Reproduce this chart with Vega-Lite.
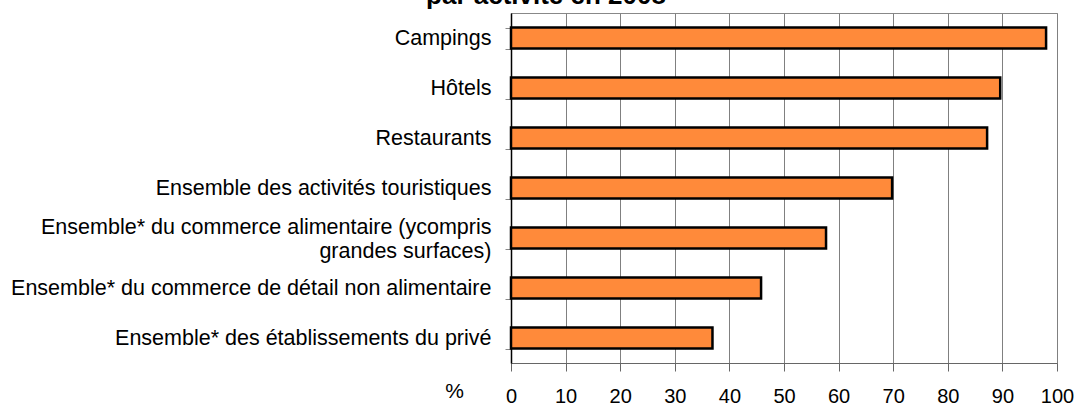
{
  "$schema": "https://vega.github.io/schema/vega-lite/v6.json",
  "width": 546,
  "height": 350,
  "autosize": "none",
  "padding": {"left": 511, "top": 13, "right": 19, "bottom": 45},
  "background": "white",
  "title": {
    "text": "par activité en 2008",
    "font": "Liberation Sans",
    "fontSize": 26,
    "fontWeight": "bold",
    "color": "black",
    "anchor": "middle",
    "baseline": "alphabetic",
    "dx": -238,
    "offset": -28
  },
  "view": {"stroke": "#888888", "strokeWidth": 1},
  "data": {
    "values": [
      {"cat": "Campings", "pct": 98.0},
      {"cat": "Hôtels", "pct": 89.6},
      {"cat": "Restaurants", "pct": 87.2},
      {"cat": "Ensemble des activités touristiques", "pct": 69.8},
      {"cat": "Ensemble* du commerce alimentaire (ycompris|grandes surfaces)", "pct": 57.7},
      {"cat": "Ensemble* du commerce de détail non alimentaire", "pct": 45.8},
      {"cat": "Ensemble* des établissements du privé", "pct": 36.9}
    ]
  },
  "mark": {"type": "bar", "fill": "#FF8A3A", "stroke": "black", "strokeWidth": 2.5},
  "encoding": {
    "y": {
      "field": "cat",
      "type": "nominal",
      "sort": null,
      "scale": {"paddingInner": 0.58, "paddingOuter": 0.29},
      "axis": {
        "title": null,
        "labelExpr": "isString(datum.value) ? split(datum.value, '|') : ''",
        "labelFont": "Liberation Sans",
        "labelFontSize": 21.5,
        "labelColor": "black",
        "labelLineHeight": 24,
        "labelLimit": 600,
        "labelPadding": 14,
        "labelOffset": {"condition": {"test": "isString(datum.value) && indexof(datum.value, '|') >= 0", "value": -11}, "value": 0},
        "tickBand": "extent",
        "tickColor": "#888888",
        "tickSize": 6,
        "domainColor": "black",
        "domainWidth": 1.5,
        "grid": false
      }
    },
    "x": {
      "field": "pct",
      "type": "quantitative",
      "scale": {"domain": [0, 100], "nice": false},
      "axis": {
        "values": [0, 10, 20, 30, 40, 50, 60, 70, 80, 90, 100],
        "grid": true,
        "gridColor": "#808080",
        "gridOpacity": 1,
        "domainColor": "#666666",
        "tickColor": "#666666",
        "tickSize": 8,
        "labelFont": "Liberation Sans",
        "labelFontSize": 20,
        "labelColor": "black",
        "labelPadding": 15,
        "labelFlush": false,
        "title": "%",
        "titleFont": "Liberation Sans",
        "titleFontSize": 21,
        "titleFontWeight": "normal",
        "titleColor": "black",
        "titleAngle": 0,
        "titleAlign": "center",
        "titleBaseline": "middle",
        "titleX": -57,
        "titleY": 28
      }
    }
  }
}
